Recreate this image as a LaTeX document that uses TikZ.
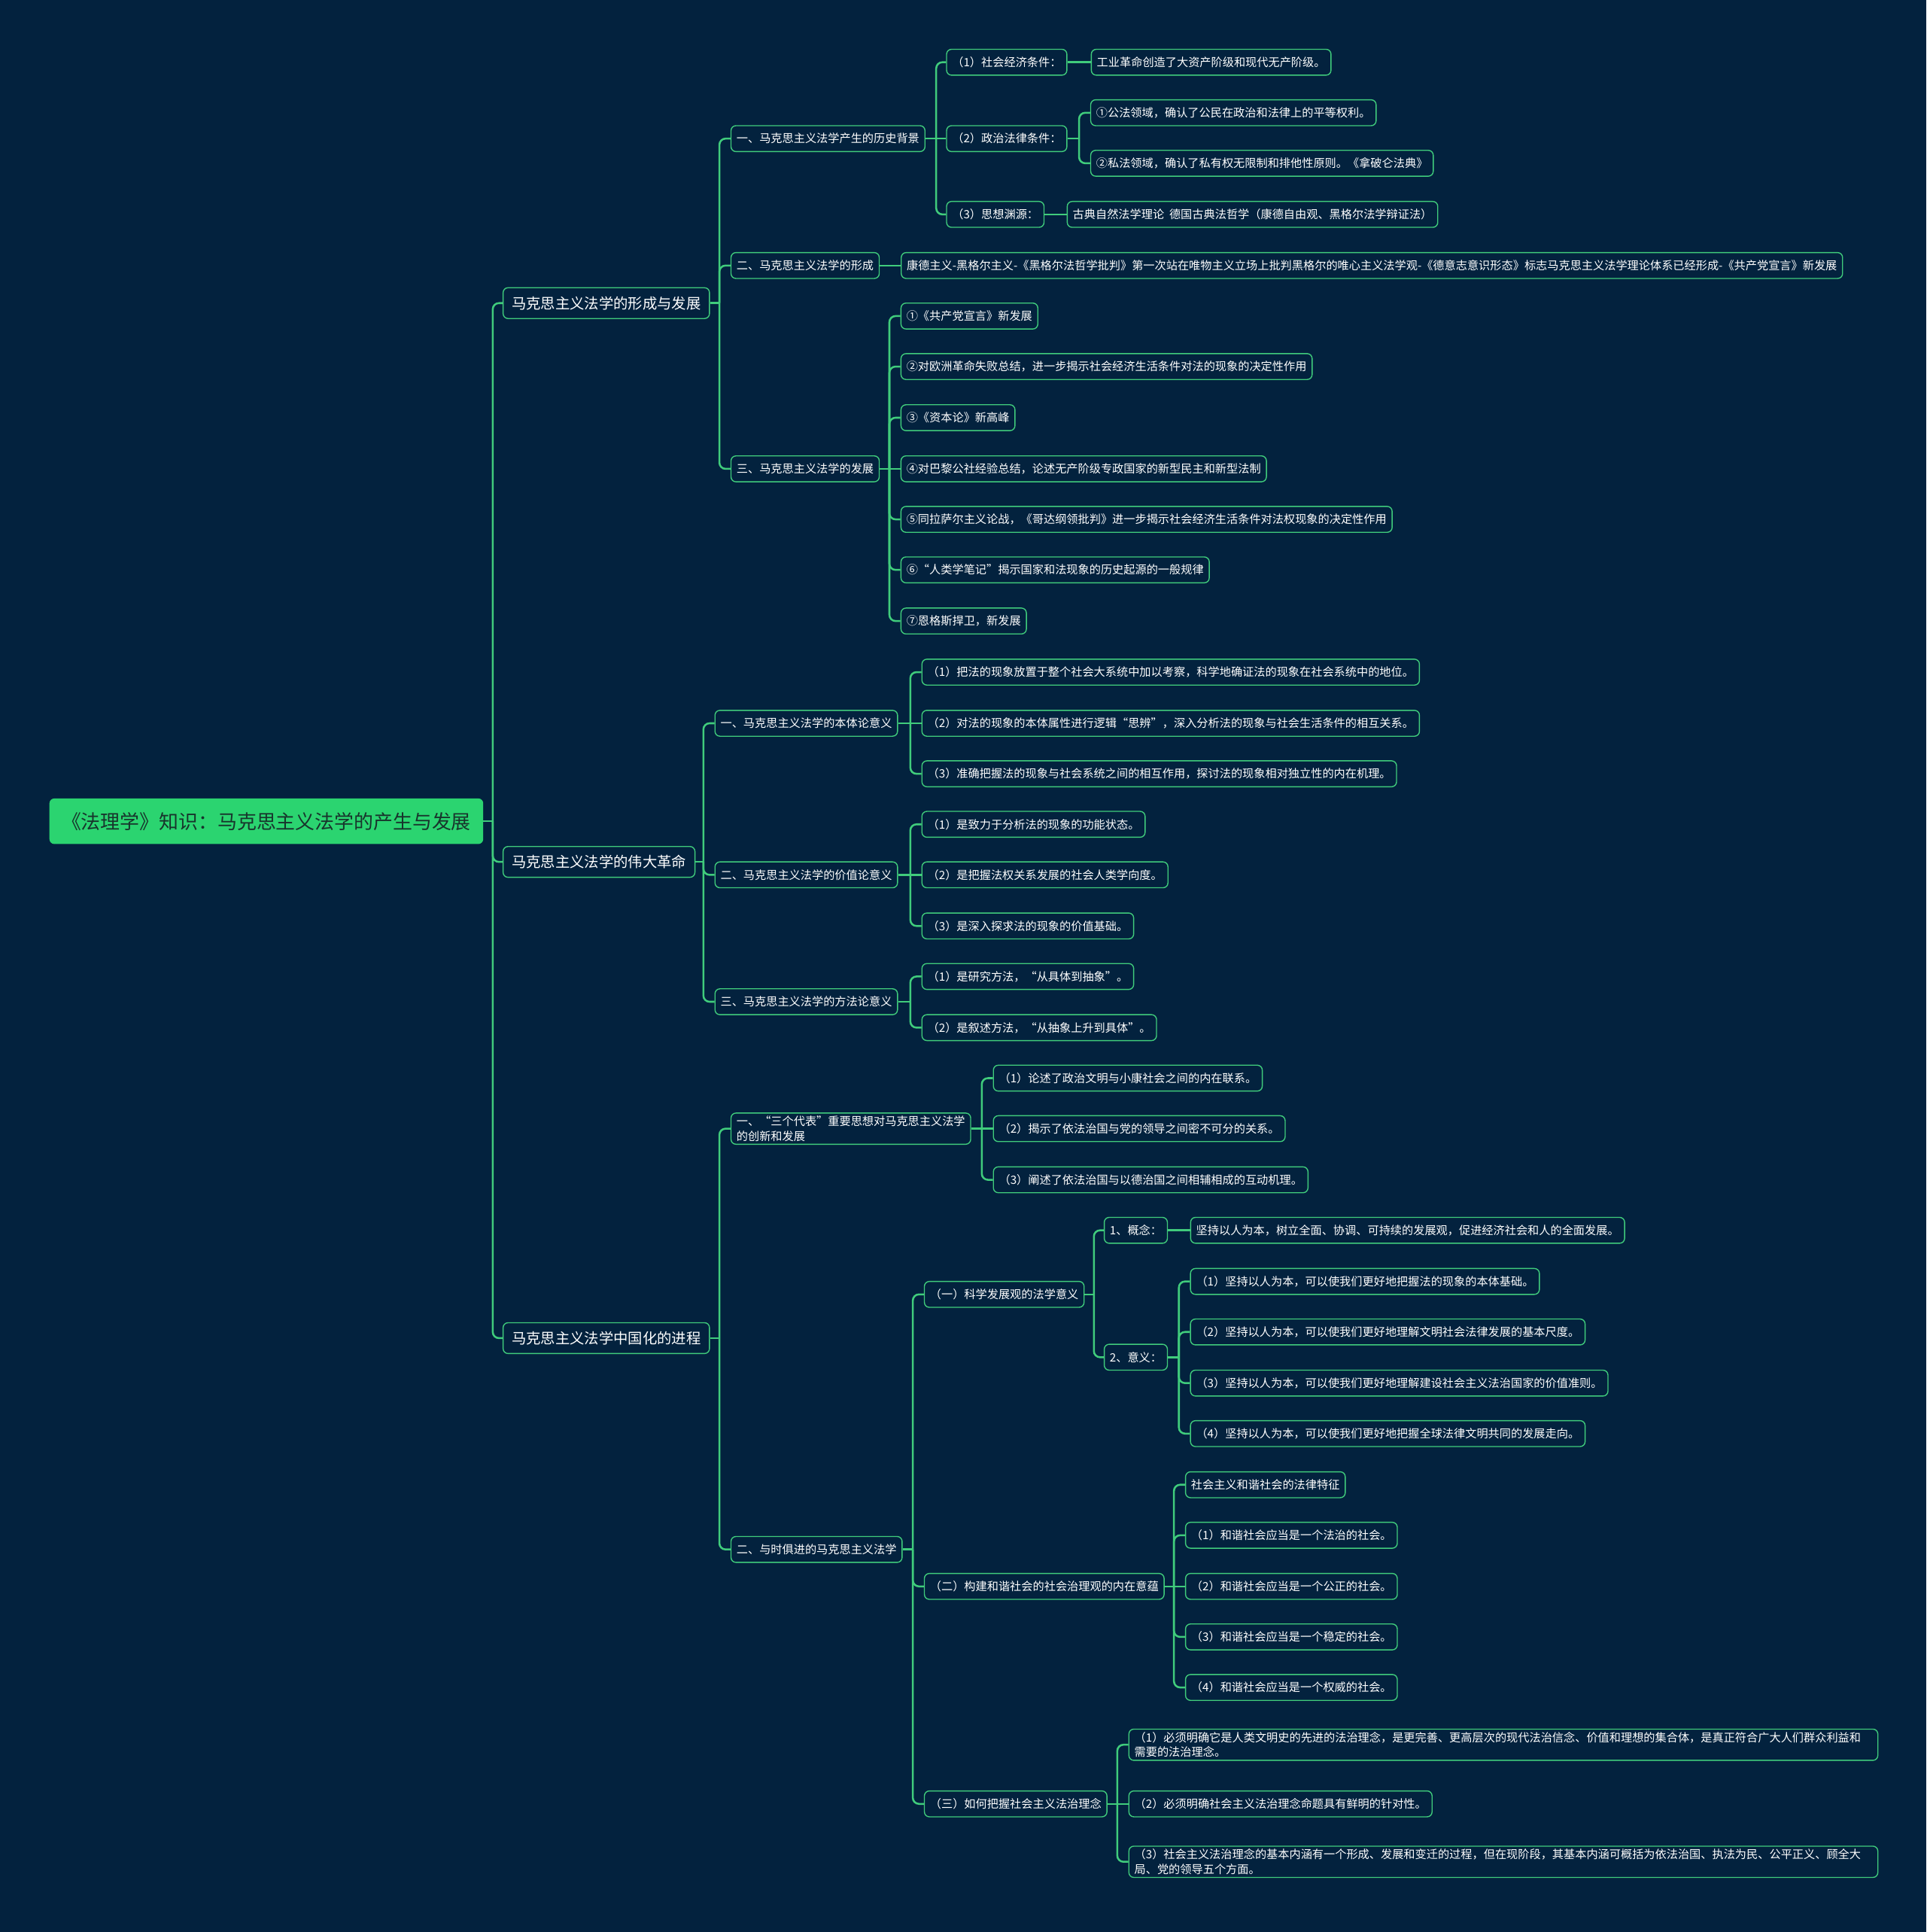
\documentclass[tikz,border=0pt]{standalone}
\usepackage{fontspec}
\usepackage{tikz}
\usetikzlibrary{positioning, calc}
\newfontfamily\cjk{Noto Sans CJK SC}
\definecolor{mapbg}{RGB}{3,34,62}
\definecolor{mapgreen}{RGB}{64,204,124}
\definecolor{rootfill}{RGB}{43,212,112}
\definecolor{roottext}{RGB}{24,52,44}
\tikzset{
  rootbox/.style={rectangle, fill=rootfill, text=roottext,
    font=\cjk\fontsize{22.5pt}{26pt}\selectfont, rounded corners=2mm,
    minimum height=18.5mm, inner xsep=5mm, anchor=west},
  topicbox/.style={rectangle, draw=mapgreen, fill=mapbg, text=white,
    font=\cjk\fontsize{16.8pt}{20pt}\selectfont, rounded corners=2mm,
    minimum height=12.5mm, inner xsep=3.5mm, line width=1.2pt, anchor=west},
  itembox/.style={rectangle, draw=mapgreen, fill=mapbg, text=white,
    font=\cjk\fontsize{13.2pt}{17pt}\selectfont, rounded corners=2mm,
    minimum height=10.5mm, inner xsep=2.25mm, line width=1.2pt, anchor=west, align=left},
  link/.style={draw=mapgreen, line width=2.2pt, rounded corners=2.5mm}
}

\begin{document}
\begin{tikzpicture}[x=0.5mm, y=-0.5mm]
  \fill[mapbg] (0,0) rectangle (1564,1568);
  \useasboundingbox (0,0) rectangle (1564,1568);

  \node[rootbox] (root) at (40,666.5) {《法理学》知识：马克思主义法学的产生与发展};

  \node[topicbox] (form) at (408,246) {马克思主义法学的形成与发展};
  \node[topicbox] (revo) at (408,699.5) {马克思主义法学的伟大革命};
  \node[topicbox] (sino) at (408,1086) {马克思主义法学中国化的进程};

  % formation and development
  \node[itembox] (hist) at (593,112.5) {一、马克思主义法学产生的历史背景};
  \node[itembox] (shap) at (593,215.5) {二、马克思主义法学的形成};
  \node[itembox] (devl) at (593,380.5) {三、马克思主义法学的发展};

  \node[itembox] (hist1) at (768,50.5) {（1）社会经济条件：};
  \node[itembox, right=9.5mm of hist1] (hist1a) {工业革命创造了大资产阶级和现代无产阶级。};
  \node[itembox] (hist2) at (768,112.5) {（2）政治法律条件：};
  \node[itembox] (hist2a) at (885,91.5) {①公法领域，确认了公民在政治和法律上的平等权利。};
  \node[itembox] (hist2b) at (885,132.5) {②私法领域，确认了私有权无限制和排他性原则。《拿破仑法典》};
  \node[itembox] (hist3) at (768,174) {（3）思想渊源：};
  \node[itembox, right=9mm of hist3] (hist3a) {古典自然法学理论\ \ 德国古典法哲学（康德自由观、黑格尔法学辩证法）};

  \node[itembox, right=8.5mm of shap] (shapa) {康德主义-黑格尔主义-《黑格尔法哲学批判》第一次站在唯物主义立场上批判黑格尔的唯心主义法学观-《德意志意识形态》标志马克思主义法学理论体系已经形成-《共产党宣言》新发展};

  \node[itembox] (devl1) at (731,256.5) {①《共产党宣言》新发展};
  \node[itembox] (devl2) at (731,297.5) {②对欧洲革命失败总结，进一步揭示社会经济生活条件对法的现象的决定性作用};
  \node[itembox] (devl3) at (731,339) {③《资本论》新高峰};
  \node[itembox] (devl4) at (731,380.5) {④对巴黎公社经验总结，论述无产阶级专政国家的新型民主和新型法制};
  \node[itembox] (devl5) at (731,421.5) {⑤同拉萨尔主义论战，《哥达纲领批判》进一步揭示社会经济生活条件对法权现象的决定性作用};
  \node[itembox] (devl6) at (731,462.5) {⑥“人类学笔记”揭示国家和法现象的历史起源的一般规律};
  \node[itembox] (devl7) at (731,504) {⑦恩格斯捍卫，新发展};

  % great revolution
  \node[itembox] (onto) at (580,587) {一、马克思主义法学的本体论意义};
  \node[itembox] (valu) at (580,710) {二、马克思主义法学的价值论意义};
  \node[itembox] (meth) at (580,813) {三、马克思主义法学的方法论意义};

  \node[itembox] (onto1) at (748,545.5) {（1）把法的现象放置于整个社会大系统中加以考察，科学地确证法的现象在社会系统中的地位。};
  \node[itembox] (onto2) at (748,587) {（2）对法的现象的本体属性进行逻辑“思辨”，深入分析法的现象与社会生活条件的相互关系。};
  \node[itembox] (onto3) at (748,628) {（3）准确把握法的现象与社会系统之间的相互作用，探讨法的现象相对独立性的内在机理。};
  \node[itembox] (valu1) at (748,669) {（1）是致力于分析法的现象的功能状态。};
  \node[itembox] (valu2) at (748,710) {（2）是把握法权关系发展的社会人类学向度。};
  \node[itembox] (valu3) at (748,751.5) {（3）是深入探求法的现象的价值基础。};
  \node[itembox] (meth1) at (748,792.5) {（1）是研究方法，“从具体到抽象”。};
  \node[itembox] (meth2) at (748,834) {（2）是叙述方法，“从抽象上升到具体”。};

  % sinicization
  \node[itembox] (thrd) at (593,916) {一、“三个代表”重要思想对马克思主义法学\\的创新和发展};
  \node[itembox] (time) at (593,1257.5) {二、与时俱进的马克思主义法学};

  \node[itembox] (thrd1) at (806,875) {（1）论述了政治文明与小康社会之间的内在联系。};
  \node[itembox] (thrd2) at (806,916) {（2）揭示了依法治国与党的领导之间密不可分的关系。};
  \node[itembox] (thrd3) at (806,957.5) {（3）阐述了依法治国与以德治国之间相辅相成的互动机理。};

  \node[itembox] (sci) at (750,1050.5) {（一）科学发展观的法学意义};
  \node[itembox] (harm) at (750,1287.5) {（二）构建和谐社会的社会治理观的内在意蕴};
  \node[itembox] (rule) at (750,1464) {（三）如何把握社会主义法治理念};

  \node[itembox] (sciA) at (896,998.5) {1、概念：};
  \node[itembox, right=9mm of sciA] (sciAa) {坚持以人为本，树立全面、协调、可持续的发展观，促进经济社会和人的全面发展。};
  \node[itembox] (sciB) at (896,1101.5) {2、意义：};
  \node[itembox] (sciB1) at (966,1040) {（1）坚持以人为本，可以使我们更好地把握法的现象的本体基础。};
  \node[itembox] (sciB2) at (966,1081) {（2）坚持以人为本，可以使我们更好地理解文明社会法律发展的基本尺度。};
  \node[itembox] (sciB3) at (966,1122.5) {（3）坚持以人为本，可以使我们更好地理解建设社会主义法治国家的价值准则。};
  \node[itembox] (sciB4) at (966,1163.5) {（4）坚持以人为本，可以使我们更好地把握全球法律文明共同的发展走向。};

  \node[itembox] (harm0) at (962,1205) {社会主义和谐社会的法律特征};
  \node[itembox] (harm1) at (962,1246) {（1）和谐社会应当是一个法治的社会。};
  \node[itembox] (harm2) at (962,1287.5) {（2）和谐社会应当是一个公正的社会。};
  \node[itembox] (harm3) at (962,1328.5) {（3）和谐社会应当是一个稳定的社会。};
  \node[itembox] (harm4) at (962,1369.5) {（4）和谐社会应当是一个权威的社会。};

  \node[itembox, text width=299.5mm] (rule1) at (916,1416) {（1）必须明确它是人类文明史的先进的法治理念，是更完善、更高层次的现代法治信念、价值和理想的集合体，是真正符合广大人们群众利益和\\需要的法治理念。};
  \node[itembox] (rule2) at (916,1464) {（2）必须明确社会主义法治理念命题具有鲜明的针对性。};
  \node[itembox, text width=299.5mm] (rule3) at (916,1511) {（3）社会主义法治理念的基本内涵有一个形成、发展和变迁的过程，但在现阶段，其基本内涵可概括为依法治国、执法为民、公平正义、顾全大\\局、党的领导五个方面。};

  \coordinate (rootj) at (400,666.5);
  \coordinate (formj) at (584,246);
  \coordinate (histj) at (760,112.5);
  \coordinate (hist2j) at (876,112.5);
  \coordinate (devlj) at (722,380.5);
  \coordinate (revoj) at (571,699.5);
  \coordinate (ontoj) at (739,587);
  \coordinate (valuj) at (739,710);
  \coordinate (methj) at (739,813);
  \coordinate (sinoj) at (584,1086);
  \coordinate (thrdj) at (797,916);
  \coordinate (timej) at (741,1257.5);
  \coordinate (scij) at (888,1050.5);
  \coordinate (sciBj) at (957,1101.5);
  \coordinate (harmj) at (953,1287.5);
  \coordinate (rulej) at (907,1464);

  \draw[link] (root.east) -- (rootj);
  \foreach \c in {form,revo,sino} \draw[link] (rootj) |- (\c.west);

  \draw[link] (form.east) -- (formj);
  \foreach \c in {hist,shap,devl} \draw[link] (formj) |- (\c.west);
  \draw[link] (hist.east) -- (hist2.west);
  \foreach \c in {hist1,hist3} \draw[link] (histj) |- (\c.west);
  \draw[link] (hist1) -- (hist1a);
  \draw[link] (hist2.east) -- (hist2j);
  \foreach \c in {hist2a,hist2b} \draw[link] (hist2j) |- (\c.west);
  \draw[link] (hist3) -- (hist3a);
  \draw[link] (shap) -- (shapa);
  \draw[link] (devl.east) -- (devl4.west);
  \foreach \c in {devl1,devl2,devl3,devl5,devl6,devl7} \draw[link] (devlj) |- (\c.west);

  \draw[link] (revo.east) -- (revoj);
  \foreach \c in {onto,valu,meth} \draw[link] (revoj) |- (\c.west);
  \draw[link] (onto.east) -- (onto2.west);
  \foreach \c in {onto1,onto3} \draw[link] (ontoj) |- (\c.west);
  \draw[link] (valu.east) -- (valu2.west);
  \foreach \c in {valu1,valu3} \draw[link] (valuj) |- (\c.west);
  \draw[link] (meth.east) -- (methj);
  \foreach \c in {meth1,meth2} \draw[link] (methj) |- (\c.west);

  \draw[link] (sino.east) -- (sinoj);
  \foreach \c in {thrd,time} \draw[link] (sinoj) |- (\c.west);
  \draw[link] (thrd.east) -- (thrd2.west);
  \foreach \c in {thrd1,thrd3} \draw[link] (thrdj) |- (\c.west);
  \draw[link] (time.east) -- (timej);
  \foreach \c in {sci,harm,rule} \draw[link] (timej) |- (\c.west);
  \draw[link] (sci.east) -- (scij);
  \foreach \c in {sciA,sciB} \draw[link] (scij) |- (\c.west);
  \draw[link] (sciA) -- (sciAa);
  \draw[link] (sciB.east) -- (sciBj);
  \foreach \c in {sciB1,sciB2,sciB3,sciB4} \draw[link] (sciBj) |- (\c.west);
  \draw[link] (harm.east) -- (harm2.west);
  \foreach \c in {harm0,harm1,harm3,harm4} \draw[link] (harmj) |- (\c.west);
  \draw[link] (rule.east) -- (rule2.west);
  \foreach \c in {rule1,rule3} \draw[link] (rulej) |- (\c.west);
\end{tikzpicture}
\end{document}
